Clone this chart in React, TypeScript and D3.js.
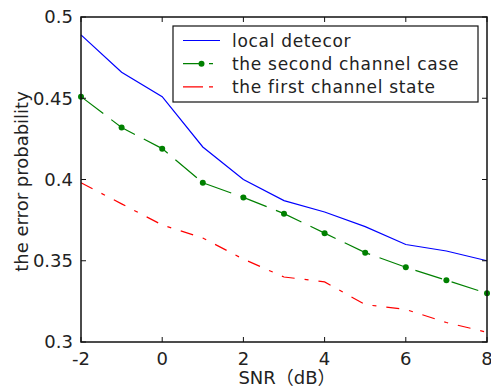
import React from 'react';
import * as d3 from 'd3';

// SNR values (dB)
const snr = [-2, -1, 0, 1, 2, 3, 4, 5, 6, 7, 8];
// local detecor
const localDet = [0.489, 0.466, 0.451, 0.420, 0.400, 0.387, 0.380, 0.371, 0.360, 0.356, 0.350];
// the second channel case
const secondCase = [0.451, 0.432, 0.419, 0.398, 0.389, 0.379, 0.367, 0.355, 0.346, 0.338, 0.330];
// the first channel state
const firstState = [0.398, 0.385, 0.372, 0.364, 0.351, 0.340, 0.337, 0.323, 0.320, 0.312, 0.306];

const xTicks = [-2, 0, 2, 4, 6, 8];
const yTicks = [0.3, 0.35, 0.4, 0.45, 0.5];
const legendNames = ['local detecor', 'the second channel case', 'the first channel state'];

const W = 491;
const H = 388;
const left = 81, right = 487, top = 17, bottom = 342;
const font = "'DejaVu Sans', 'Noto Sans CJK SC', sans-serif";

export default function App() {
  const x = d3.scaleLinear().domain([-2, 8]).range([left, right]);
  const y = d3.scaleLinear().domain([0.3, 0.5]).range([bottom, top]);

  const line = d3.line<number>()
    .x((d, i) => x(snr[i]))
    .y(d => y(d));

  const series = [
    {name: legendNames[0], data: localDet, color: '#0000ff', dash: null, marker: false},
    {name: legendNames[1], data: secondCase, color: '#008000', dash: '28,10', marker: true},
    {name: legendNames[2], data: firstState, color: '#ff0000', dash: '13,10,4,10', marker: false},
  ];

  const tick = 5;

  return (
    <div style={{position: 'fixed', left: 0, top: 0, background: '#fff'}}>
      <svg width={W} height={H} style={{display: 'block'}}>
        <rect x={0} y={0} width={W} height={H} fill="#fff" />

        {/* data lines */}
        {series.map(s => (
          <g key={s.name}>
            <path d={line(s.data) || ''} fill="none" stroke={s.color} strokeWidth={1.2}
              strokeDasharray={s.dash || undefined} />
            {s.marker && s.data.map((v, i) => (
              <circle key={i} cx={x(snr[i])} cy={y(v)} r={3} fill={s.color} />
            ))}
          </g>
        ))}

        {/* axes box */}
        <rect x={left} y={top} width={right - left} height={bottom - top} fill="none"
          stroke="#111" strokeWidth={1.5} />

        {xTicks.map(t => (
          <g key={'x' + t}>
            <line x1={x(t)} x2={x(t)} y1={bottom} y2={bottom - tick} stroke="#111" />
            <line x1={x(t)} x2={x(t)} y1={top} y2={top + tick} stroke="#111" />
            <text x={x(t)} y={365} textAnchor="middle" fontFamily={font} fontSize={18}
              fill="#222">{t}</text>
          </g>
        ))}

        {yTicks.map(t => (
          <g key={'y' + t}>
            <line x1={left} x2={left + tick} y1={y(t)} y2={y(t)} stroke="#111" />
            <line x1={right} x2={right - tick} y1={y(t)} y2={y(t)} stroke="#111" />
            <text x={73} y={y(t)} dy="0.36em" textAnchor="end" fontFamily={font} fontSize={18}
              fill="#222">{d3.format('')(t)}</text>
          </g>
        ))}

        {/* axis labels */}
        <text x={(left + right) / 2 + 3} y={384} textAnchor="middle" fontFamily={font}
          fontSize={18} fill="#222">SNR（dB）</text>
        <text transform={`translate(28,${(top + bottom) / 2 + 2}) rotate(-90)`} textAnchor="middle"
          fontFamily={font} fontSize={18} fill="#222">the error probability</text>

        {/* legend */}
        <rect x={173} y={26} width={305} height={76} fill="#fff" stroke="#111" strokeWidth={1.2} />
        {series.map((s, i) => {
          const ly = 40.5 + i * 23.2;
          return (
            <g key={'lg' + i}>
              <line x1={183} x2={220} y1={ly} y2={ly} stroke={s.color} strokeWidth={1.2}
                strokeDasharray={s.dash ? '20,6,4,10' : undefined} />
              {s.marker && <circle cx={201.5} cy={ly} r={3} fill={s.color} />}
              <text x={232} y={ly} dy="0.36em" fontFamily={font} fontSize={17}
                letterSpacing={0.7} fill="#222">{s.name}</text>
            </g>
          );
        })}
      </svg>
    </div>
  );
}
